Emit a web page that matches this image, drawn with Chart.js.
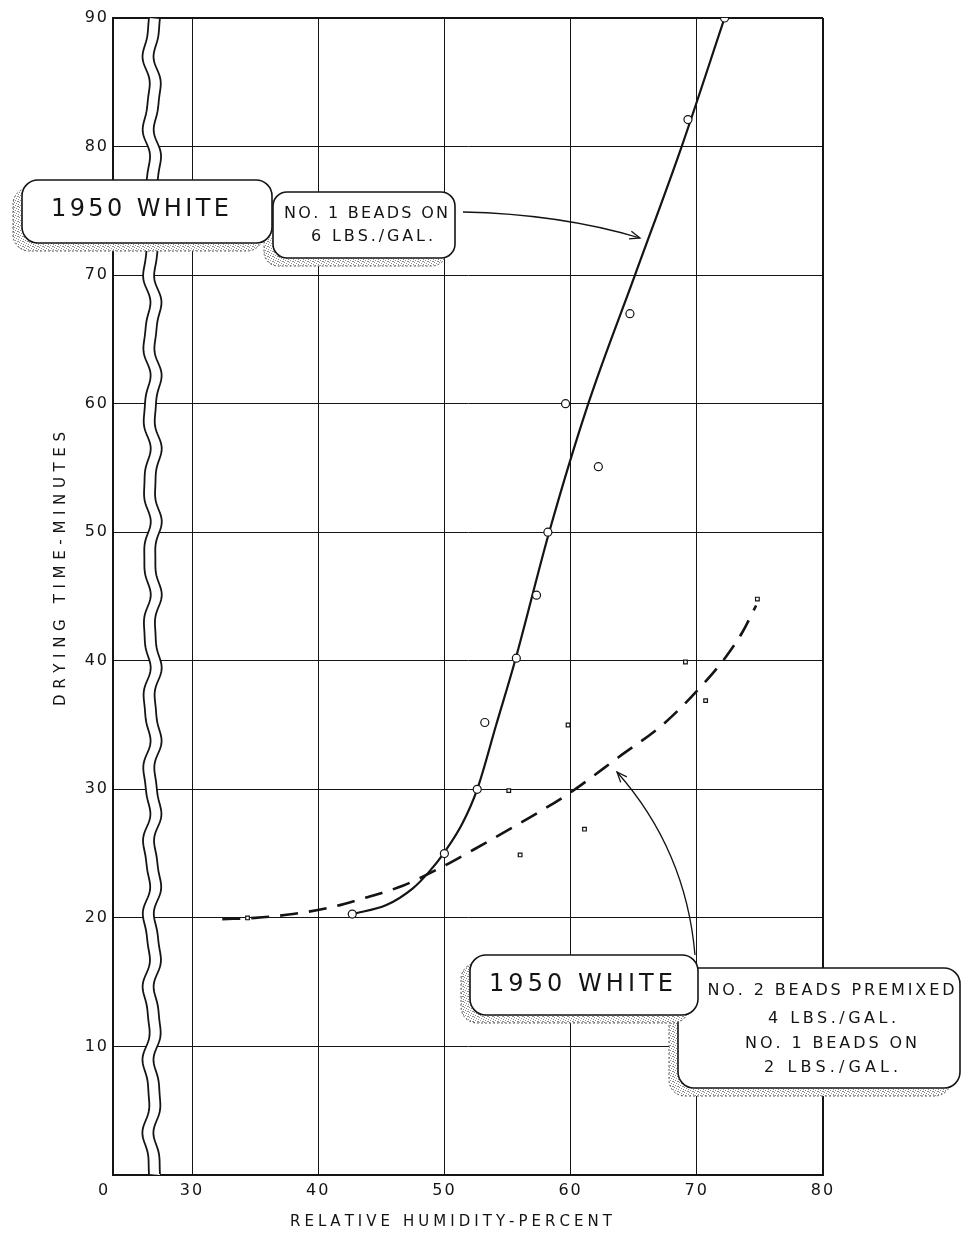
<!DOCTYPE html>
<html><head><meta charset="utf-8">
<script src="https://cdn.jsdelivr.net/npm/chart.js@4.4.1/dist/chart.umd.min.js"></script>
<style>html,body{margin:0;padding:0;background:#fff;}canvas{display:block;}</style>
</head><body>
<canvas id="c" width="972" height="1241"></canvas>
<script>
// ---- data ----
const xTickValues = [23.74, 30, 40, 50, 60, 70, 80];
const xTickLabels = ['0\u2003', '30', '40', '50', '60', '70', '80'];
const yTickValues = [0, 10, 20, 30, 40, 50, 60, 70, 80, 90];
const yTickLabels = ['', '10', '20', '30', '40', '50', '60', '70', '80', '90'];

// No. 1 beads on 6 lbs./gal. (open circles)
const solidX = [42.7, 50.0, 52.6, 53.2, 55.7, 57.3, 58.2, 59.6, 62.2, 64.7, 69.3, 72.2];
const solidY = [20.3, 25.0, 30.0, 35.2, 40.2, 45.1, 50.0, 60.0, 55.1, 67.0, 82.1, 90.0];
// No. 2 beads premixed 4 lbs./gal., No. 1 beads on 2 lbs./gal. (small squares)
const dashedX = [34.4, 55.1, 56.0, 59.8, 61.1, 69.1, 70.7, 74.8];
const dashedY = [20.0, 29.9, 24.9, 35.0, 26.9, 39.9, 36.9, 44.8];

// hand-drawn fitted curves
const solidCurveX = [42.7, 45.4, 47.5, 48.8, 50.0, 51.4, 52.6, 54.1, 55.6, 58.3, 61.4, 65.1, 68.8, 72.2];
const solidCurveY = [20.3, 21.0, 22.3, 23.6, 25.1, 27.3, 30.0, 35.0, 40.0, 50.0, 60.0, 70.0, 80.0, 90.0];
const dashedCurveX = [32.4, 35.0, 38.0, 40.9, 43.5, 46.7, 49.5, 52.3, 55.7, 59.9, 63.8, 67.5, 70.7, 72.3, 73.6, 74.7];
const dashedCurveY = [19.9, 20.0, 20.3, 20.8, 21.5, 22.5, 23.8, 25.3, 27.2, 29.7, 32.5, 35.2, 38.4, 40.3, 42.2, 44.3];

const xTitle = 'RELATIVE HUMIDITY-PERCENT';
const yTitle = 'DRYING TIME-MINUTES';
const calloutTop = ['1950 WHITE', 'NO. 1 BEADS ON', '6 LBS./GAL.'];
const calloutBottom = ['1950 WHITE', 'NO. 2 BEADS PREMIXED', '4 LBS./GAL.', 'NO. 1 BEADS ON', '2 LBS./GAL.'];

const FONT = '"DejaVu Sans", "Liberation Sans", sans-serif';
const INK = '#141414';

function pts(xs, ys) { return xs.map((x, i) => ({ x: x, y: ys[i] })); }

function drawSpaced(ctx, text, cx, cy, width, size) {
  ctx.save();
  ctx.letterSpacing = '0px';
  ctx.font = size + 'px ' + FONT;
  ctx.fillStyle = INK;
  ctx.textBaseline = 'middle';
  ctx.textAlign = 'left';
  const chars = Array.from(text);
  const w = chars.map(c => ctx.measureText(c).width);
  const nat = w.reduce((a, b) => a + b, 0);
  const ls = chars.length > 1 ? (width - nat) / (chars.length - 1) : 0;
  let x = cx - width / 2;
  chars.forEach((c, i) => { ctx.fillText(c, x, cy); x += w[i] + ls; });
  ctx.restore();
}

let shadowPattern = null;
function getPattern(ctx) {
  if (shadowPattern) return shadowPattern;
  const pc = document.createElement('canvas');
  pc.width = 5; pc.height = 5;
  const p = pc.getContext('2d');
  p.fillStyle = '#fff'; p.fillRect(0, 0, 5, 5);
  p.fillStyle = '#8a8a8a';
  [[0,0],[2,1],[4,2],[1,3],[3,4],[3,1]].forEach(a => p.fillRect(a[0], a[1], 1, 1));
  shadowPattern = ctx.createPattern(pc, 'repeat');
  return shadowPattern;
}

function drawBox(ctx, b) {
  ctx.save();
  ctx.beginPath();
  ctx.roundRect(b.x - 9, b.y + 8, b.w, b.h, b.r);
  ctx.fillStyle = getPattern(ctx);
  ctx.fill();
  ctx.strokeStyle = '#555';
  ctx.lineWidth = 1;
  ctx.setLineDash([2, 2]);
  ctx.stroke();
  ctx.setLineDash([]);
  ctx.beginPath();
  ctx.roundRect(b.x, b.y, b.w, b.h, b.r);
  ctx.fillStyle = '#fff';
  ctx.fill();
  ctx.strokeStyle = INK;
  ctx.lineWidth = 1.6;
  ctx.stroke();
  ctx.restore();
}

function drawArrow(ctx, p0, c, p1) {
  ctx.save();
  ctx.strokeStyle = INK;
  ctx.lineWidth = 1.3;
  ctx.beginPath();
  ctx.moveTo(p0[0], p0[1]);
  ctx.quadraticCurveTo(c[0], c[1], p1[0], p1[1]);
  ctx.stroke();
  const ang = Math.atan2(p1[1] - c[1], p1[0] - c[0]);
  const L = 11, spread = 0.38;
  ctx.beginPath();
  ctx.moveTo(p1[0] - L * Math.cos(ang - spread), p1[1] - L * Math.sin(ang - spread));
  ctx.lineTo(p1[0], p1[1]);
  ctx.lineTo(p1[0] - L * Math.cos(ang + spread), p1[1] - L * Math.sin(ang + spread));
  ctx.stroke();
  ctx.restore();
}

function waveX(base, y) {
  return base + 3.2 * Math.sin(2 * Math.PI * y / 72) + 1.0 * Math.sin(2 * Math.PI * y / 37 + 1);
}

const breakPlugin = {
  id: 'axisBreak',
  beforeDraw(chart) { chart.ctx.letterSpacing = '2px'; },
  beforeDatasetsDraw(chart) {
    const ctx = chart.ctx, a = chart.chartArea;
    const base1 = chart.scales.x.getPixelForValue(26.4);
    const gap = 11;
    ctx.save();
    ctx.beginPath();
    for (let y = a.top; y <= a.bottom; y += 2) ctx.lineTo(waveX(base1, y), y);
    for (let y = a.bottom; y >= a.top; y -= 2) ctx.lineTo(waveX(base1, y) + gap, y);
    ctx.closePath();
    ctx.fillStyle = '#fff';
    ctx.fill();
    ctx.strokeStyle = INK;
    ctx.lineWidth = 1.8;
    [0, gap].forEach(off => {
      ctx.beginPath();
      for (let y = a.top; y <= a.bottom; y += 2) ctx.lineTo(waveX(base1, y) + off, y);
      ctx.stroke();
    });
    ctx.restore();
  },
  afterDraw(chart) {
    const ctx = chart.ctx;
    // axis titles
    drawSpaced(ctx, xTitle, 451, 1222, 322, 15);
    ctx.save();
    ctx.translate(61, 569);
    ctx.rotate(-Math.PI / 2);
    drawSpaced(ctx, yTitle, 0, 0, 274, 15);
    ctx.restore();
    // arrows
    drawArrow(ctx, [463, 212], [560, 214], [640, 238]);
    drawArrow(ctx, [695, 955], [686, 850], [617, 772]);
    // callout boxes
    drawBox(ctx, { x: 273, y: 192, w: 182, h: 66, r: 14 });
    drawBox(ctx, { x: 22, y: 180, w: 250, h: 63, r: 16 });
    drawBox(ctx, { x: 678, y: 968, w: 282, h: 120, r: 16 });
    drawBox(ctx, { x: 470, y: 955, w: 228, h: 60, r: 16 });
    drawSpaced(ctx, calloutTop[0], 140, 210, 178, 24);
    drawSpaced(ctx, calloutTop[1], 366, 214, 164, 16);
    drawSpaced(ctx, calloutTop[2], 372, 237, 122, 16);
    drawSpaced(ctx, calloutBottom[0], 581, 985, 184, 24);
    drawSpaced(ctx, calloutBottom[1], 831, 991, 247, 16);
    drawSpaced(ctx, calloutBottom[2], 832, 1019, 128, 16);
    drawSpaced(ctx, calloutBottom[3], 831, 1044, 172, 16);
    drawSpaced(ctx, calloutBottom[4], 831, 1068, 134, 16);
  }
};

new Chart(document.getElementById('c'), {
  type: 'scatter',
  data: {
    datasets: [
      { label: 'curve 1', type: 'line', data: pts(solidCurveX, solidCurveY), borderColor: INK, borderWidth: 2.2,
        pointRadius: 0, cubicInterpolationMode: 'monotone', fill: false, order: 3 },
      { label: 'curve 2', type: 'line', data: pts(dashedCurveX, dashedCurveY), borderColor: INK, borderWidth: 2.6,
        borderDash: [18, 11], pointRadius: 0, cubicInterpolationMode: 'monotone', fill: false, order: 3 },
      { label: 'No. 1 beads on 6 lbs./gal.', data: pts(solidX, solidY), pointStyle: 'circle', pointRadius: 4,
        backgroundColor: '#fff', borderColor: INK, borderWidth: 1.2, order: 1 },
      { label: 'No. 2 premixed 4 lbs./gal. + No. 1 on 2 lbs./gal.', data: pts(dashedX, dashedY), pointStyle: 'rect', pointRadius: 2.6,
        backgroundColor: '#fff', borderColor: INK, borderWidth: 1.2, order: 1 }
    ]
  },
  options: {
    responsive: false,
    animation: false,
    events: [],
    layout: { padding: { top: 18, right: 149, left: 0, bottom: 0 } },
    plugins: { legend: { display: false }, tooltip: { enabled: false } },
    scales: {
      x: {
        type: 'linear', min: xTickValues[0], max: 80,
        afterBuildTicks: s => { s.ticks = xTickValues.map(v => ({ value: v })); },
        afterFit: s => { s.height = 66; },
        ticks: { callback: (v, i) => xTickLabels[i], font: { family: FONT, size: 16 }, color: INK,
                 padding: 6, maxRotation: 0, autoSkip: false },
        grid: { color: INK, lineWidth: c => (c.index === 0 || c.index === xTickValues.length - 1) ? 2 : 1, drawTicks: false },
        border: { display: true, color: INK, width: 2 }
      },
      y: {
        type: 'linear', min: 0, max: 90,
        afterBuildTicks: s => { s.ticks = yTickValues.map(v => ({ value: v })); },
        afterFit: s => { s.width = 113; },
        ticks: { callback: (v, i) => yTickLabels[i], font: { family: FONT, size: 16 }, color: INK,
                 padding: 4, autoSkip: false },
        grid: { color: INK, lineWidth: c => (c.index === 0 || c.index === yTickValues.length - 1) ? 2 : 1, drawTicks: false },
        border: { display: true, color: INK, width: 2 }
      }
    }
  },
  plugins: [breakPlugin]
});
</script>
</body></html>
